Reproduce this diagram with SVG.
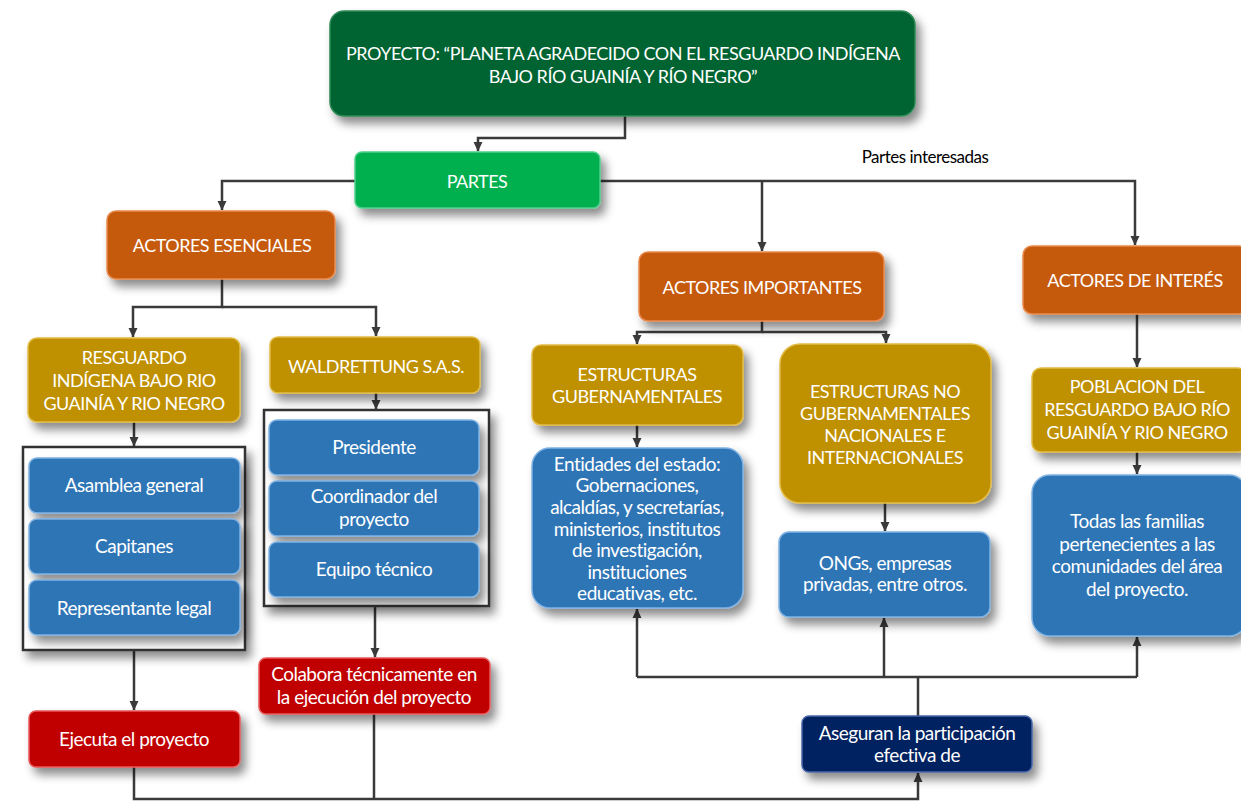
<svg xmlns="http://www.w3.org/2000/svg" width="1241" height="801" viewBox="0 0 1241 801">
<defs>
  <filter id="sh" x="-20%" y="-20%" width="150%" height="160%">
    <feDropShadow dx="5" dy="7" stdDeviation="5" flood-color="#000" flood-opacity="0.45"/>
  </filter>
  <marker id="ar" markerUnits="userSpaceOnUse" markerWidth="10" markerHeight="10" refX="9" refY="5" orient="auto">
    <path d="M0,0.5 L9.5,5 L0,9.5 z" fill="#3a3a3a"/>
  </marker>
  <style>
    text{font-family:Lato,"Open Sans","Liberation Sans",sans-serif;fill:#fff;text-anchor:middle;font-size:19px;letter-spacing:-0.5px}
    .cap{font-size:18px}
    .box{filter:url(#sh);stroke-width:1.5}
    .dg{fill:#006331;stroke:#2f8a55}
    .gr{fill:#00b050;stroke:#4fd08a}
    .or{fill:#c55a11;stroke:#e98a4d}
    .go{fill:#bf9000;stroke:#e2bb45}
    .bl{fill:#2e75b6;stroke:#7fb2e2}
    .rd{fill:#c00000;stroke:#e85a5a}
    .nv{fill:#002060;stroke:#4a66a8}
    .fr{fill:#fff;stroke:#333;stroke-width:2.5;filter:url(#sh)}
    .cn path{fill:none;stroke:#3a3a3a;stroke-width:2.5}
    .lbl{fill:#000;font-size:17px}
  </style>
</defs>
<rect width="1241" height="801" fill="#fff"/>

<g class="cn" id="connectors">
  <path d="M625,116 V138 H478 V151" marker-end="url(#ar)"/>
  <path d="M355,181 H222 V210" marker-end="url(#ar)"/>
  <path d="M600,181 H1135 V245" marker-end="url(#ar)"/>
  <path d="M762,181 V251" marker-end="url(#ar)"/>
  <path d="M222,279 V307 H133 V337" marker-end="url(#ar)"/>
  <path d="M222,307 H376 V336" marker-end="url(#ar)"/>
  <path d="M134,422 V446" marker-end="url(#ar)"/>
  <path d="M376,393 V409" marker-end="url(#ar)"/>
  <path d="M134,650 V710" marker-end="url(#ar)"/>
  <path d="M375,606 V657" marker-end="url(#ar)"/>
  <path d="M134,767 V799 H918 V773" marker-end="url(#ar)"/>
  <path d="M374,714 V799"/>
  <path d="M762,321 V332 H637 V344" marker-end="url(#ar)"/>
  <path d="M762,332 H886 V343" marker-end="url(#ar)"/>
  <path d="M637,425 V447" marker-end="url(#ar)"/>
  <path d="M885,503 V531" marker-end="url(#ar)"/>
  <path d="M1137,314 V367" marker-end="url(#ar)"/>
  <path d="M1137,452 V474" marker-end="url(#ar)"/>
  <path d="M918,716 V677"/>
  <path d="M637,677 H1137"/>
  <path d="M637,677 V609" marker-end="url(#ar)"/>
  <path d="M884,677 V618" marker-end="url(#ar)"/>
  <path d="M1137,677 V637" marker-end="url(#ar)"/>
</g>

<text class="lbl" x="925" y="163">Partes interesadas</text>

<g id="proyecto">
  <rect class="box dg" x="330" y="11" width="585" height="105" rx="14"/>
  <text class="cap" x="623" y="60">PROYECTO: “PLANETA AGRADECIDO CON EL RESGUARDO INDÍGENA</text>
  <text class="cap" x="623" y="83">BAJO RÍO GUAINÍA Y RÍO NEGRO”</text>
</g>
<g id="partes">
  <rect class="box gr" x="355" y="152" width="245" height="56" rx="7"/>
  <text class="cap" x="477" y="188">PARTES</text>
</g>
<g id="esenciales">
  <rect class="box or" x="107" y="211" width="228" height="68" rx="9"/>
  <text class="cap" x="222" y="252">ACTORES ESENCIALES</text>
</g>
<g id="importantes">
  <rect class="box or" x="639" y="252" width="245" height="69" rx="9"/>
  <text class="cap" x="762" y="294">ACTORES IMPORTANTES</text>
</g>
<g id="interes">
  <rect class="box or" x="1023" y="246" width="225" height="68" rx="9"/>
  <text class="cap" x="1135" y="287">ACTORES DE INTERÉS</text>
</g>
<g id="resguardo">
  <rect class="box go" x="28" y="338" width="212" height="84" rx="9"/>
  <text class="cap" x="134" y="364">RESGUARDO</text>
  <text class="cap" x="134" y="387">INDÍGENA BAJO RIO</text>
  <text class="cap" x="134" y="410">GUAINÍA Y RIO NEGRO</text>
</g>
<g id="waldrettung">
  <rect class="box go" x="270" y="337" width="210" height="56" rx="8"/>
  <text class="cap" x="376" y="373">WALDRETTUNG S.A.S.</text>
</g>
<g id="frame-left">
  <rect class="fr" x="23" y="447" width="222" height="203"/>
</g>
<g id="asamblea">
  <rect class="box bl" x="29" y="458" width="211" height="55" rx="8"/>
  <text x="134" y="492">Asamblea general</text>
</g>
<g id="capitanes">
  <rect class="box bl" x="29" y="519" width="211" height="55" rx="8"/>
  <text x="134" y="553">Capitanes</text>
</g>
<g id="representante">
  <rect class="box bl" x="29" y="580" width="211" height="55" rx="8"/>
  <text x="134" y="615">Representante legal</text>
</g>
<g id="frame-right">
  <rect class="fr" x="264" y="410" width="225" height="196"/>
</g>
<g id="presidente">
  <rect class="box bl" x="269" y="420" width="210" height="55" rx="8"/>
  <text x="374" y="454">Presidente</text>
</g>
<g id="coordinador">
  <rect class="box bl" x="269" y="481" width="210" height="55" rx="8"/>
  <text x="374" y="503">Coordinador del</text>
  <text x="374" y="526">proyecto</text>
</g>
<g id="equipo">
  <rect class="box bl" x="269" y="542" width="210" height="55" rx="8"/>
  <text x="374" y="576">Equipo técnico</text>
</g>
<g id="colabora">
  <rect class="box rd" x="259" y="658" width="231" height="56" rx="7"/>
  <text x="374" y="681">Colabora técnicamente en</text>
  <text x="374" y="704">la ejecución del proyecto</text>
</g>
<g id="ejecuta">
  <rect class="box rd" x="29" y="711" width="211" height="56" rx="7"/>
  <text x="134" y="746">Ejecuta el proyecto</text>
</g>
<g id="gubernamentales">
  <rect class="box go" x="532" y="345" width="211" height="80" rx="9"/>
  <text class="cap" x="637" y="381">ESTRUCTURAS</text>
  <text class="cap" x="637" y="403">GUBERNAMENTALES</text>
</g>
<g id="nogubernamentales">
  <rect class="box go" x="780" y="344" width="211" height="159" rx="20"/>
  <text class="cap" x="885" y="398">ESTRUCTURAS NO</text>
  <text class="cap" x="885" y="420">GUBERNAMENTALES</text>
  <text class="cap" x="885" y="442">NACIONALES E</text>
  <text class="cap" x="885" y="464">INTERNACIONALES</text>
</g>
<g id="entidades">
  <rect class="box bl" x="532" y="448" width="211" height="160" rx="18"/>
  <text x="637" y="471">Entidades del estado:</text>
  <text x="637" y="492">Gobernaciones,</text>
  <text x="637" y="514">alcaldías, y secretarías,</text>
  <text x="637" y="536">ministerios, institutos</text>
  <text x="637" y="557">de investigación,</text>
  <text x="637" y="579">instituciones</text>
  <text x="637" y="600">educativas, etc.</text>
</g>
<g id="ongs">
  <rect class="box bl" x="779" y="532" width="211" height="85" rx="10"/>
  <text x="885" y="570">ONGs, empresas</text>
  <text x="885" y="591">privadas, entre otros.</text>
</g>
<g id="poblacion">
  <rect class="box go" x="1032" y="368" width="215" height="84" rx="9"/>
  <text class="cap" x="1137" y="393">POBLACION DEL</text>
  <text class="cap" x="1137" y="416">RESGUARDO BAJO RÍO</text>
  <text class="cap" x="1137" y="439">GUAINÍA Y RIO NEGRO</text>
</g>
<g id="todas">
  <rect class="box bl" x="1032" y="475" width="215" height="161" rx="18"/>
  <text x="1137" y="528">Todas las familias</text>
  <text x="1137" y="551">pertenecientes a las</text>
  <text x="1137" y="573">comunidades del área</text>
  <text x="1137" y="596">del proyecto.</text>
</g>
<g id="aseguran">
  <rect class="box nv" x="802" y="716" width="230" height="56" rx="7"/>
  <text x="917" y="740">Aseguran la participación</text>
  <text x="917" y="762">efectiva de</text>
</g>
</svg>
